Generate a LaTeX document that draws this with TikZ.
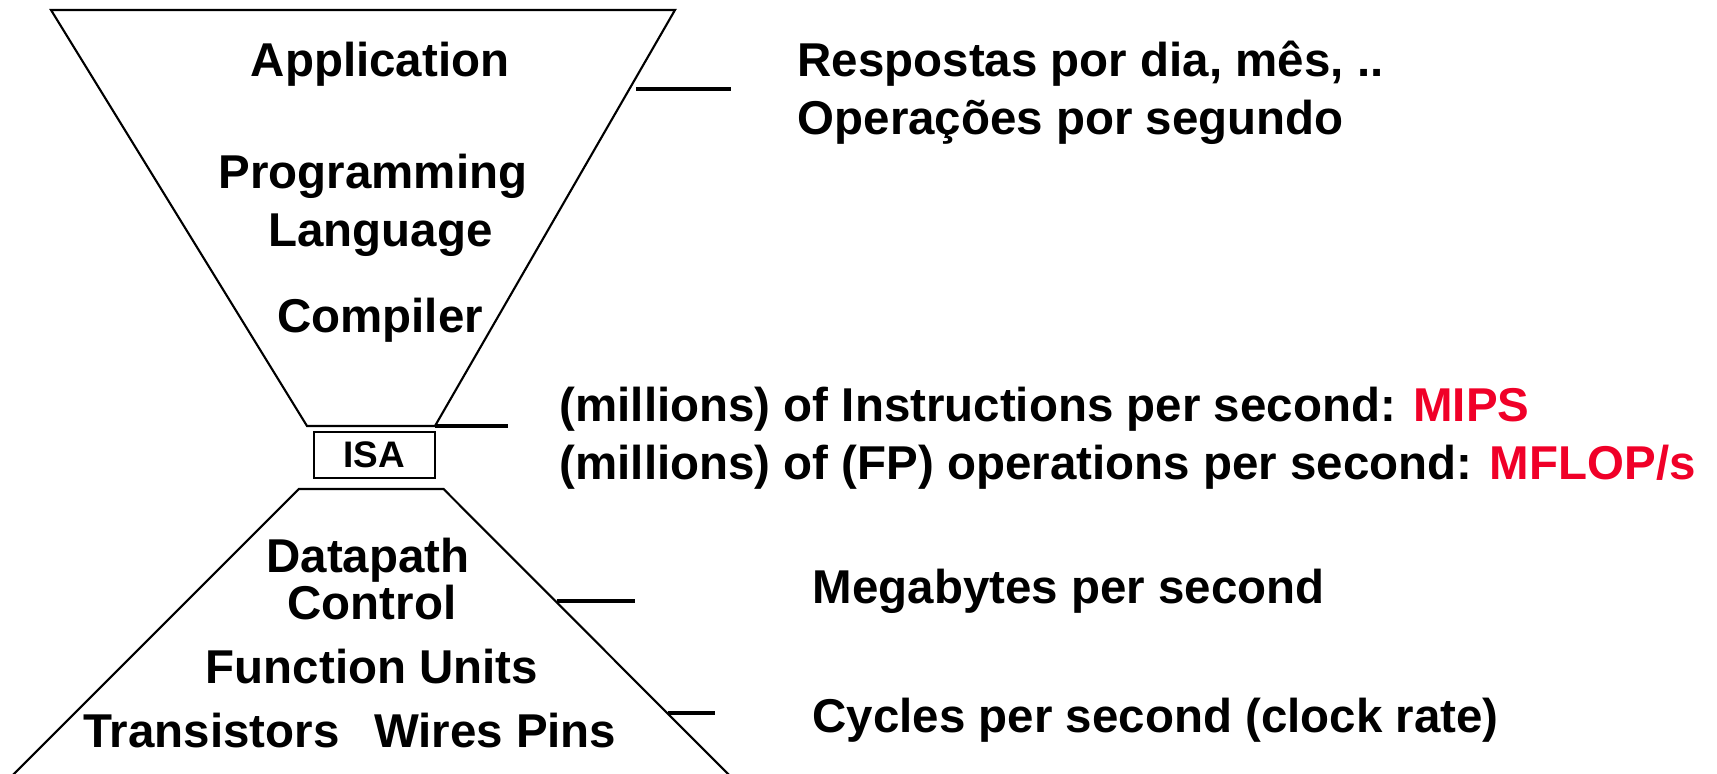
\documentclass[tikz,border=0pt]{standalone}
\usepackage{fontspec}
\setmainfont{Liberation Sans}
\usepackage{xcolor}
\usetikzlibrary{positioning}
\definecolor{mipsred}{RGB}{240,0,40}

\tikzset{
  layer/.style={font=\fontsize{13.5}{16}\selectfont\bfseries, inner sep=0pt, anchor=base},
  metric/.style={font=\fontsize{13.5}{16}\selectfont\bfseries, inner sep=0pt, anchor=base west},
  edge/.style={black, line width=0.6pt},
  tick/.style={black, line width=0.9pt}
}

\begin{document}
\begin{tikzpicture}[x=0.01cm,y=-0.01cm]
\useasboundingbox (0,0) rectangle (1717,774);
\clip (0,0) rectangle (1717,774);

%Upper funnel
\coordinate (ul) at (51,10);
\coordinate (ur) at (675,10);
\coordinate (ubr) at (435,426);
\coordinate (ubl) at (307,426);
\draw[edge] (ul) -- (ur) -- (ubr) -- (ubl) -- cycle;

%ISA box
\node (isa) [draw, edge, minimum width=1.21cm, minimum height=0.454cm, inner sep=0pt,
  font=\fontsize{10.5}{12}\selectfont\bfseries] at (374.2,455) {ISA};

%Lower funnel
\coordinate (ltl) at (299,489);
\coordinate (ltr) at (443.5,489);
\draw[edge] (-12,800) -- (ltl) -- (ltr) -- (754,800);

%Layers
\node (app) [layer] at (380,77) {Application};
\node (prog) [layer] at (373,189) {Programming};
\node (lang) [layer] at (380.5,247) {Language};
\node (comp) [layer] at (380,333) {Compiler};
\node (dpath) [layer] at (368,573) {Datapath};
\node (ctrl) [layer] at (372,620) {Control};
\node (funits) [layer] at (372,684) {Function Units};
\node (trans) [layer] at (350,748) {Transistors\hspace{0.45em} Wires Pins};

%Metrics
\node (resp) [metric] at (797,77) {Respostas por dia, mês, ..};
\node (oper) [metric] at (797,135) {Operações por segundo};
\node (mips) [metric] at (559,422) {(millions) of Instructions per second: \textcolor{mipsred}{MIPS}};
\node (mflops) [metric] at (559,480) {(millions) of (FP) operations per second: \textcolor{mipsred}{MFLOP/s}};
\node (mbps) [metric] at (812,604) {Megabytes per second};
\node (cycles) [metric] at (812,733) {Cycles per second (clock rate)};

%Ticks
\coordinate (t1a) at (636,89);   \coordinate (t1b) at (731,89);
\coordinate (t2b) at (507.5,426);
\coordinate (t3a) at (556.5,601); \coordinate (t3b) at (635,601);
\coordinate (t4a) at (668,713);   \coordinate (t4b) at (715,713);
\draw[tick] (t1a) -- (t1b);
\draw[tick] (ubr) -- (t2b);
\draw[tick] (t3a) -- (t3b);
\draw[tick] (t4a) -- (t4b);
\end{tikzpicture}
\end{document}
